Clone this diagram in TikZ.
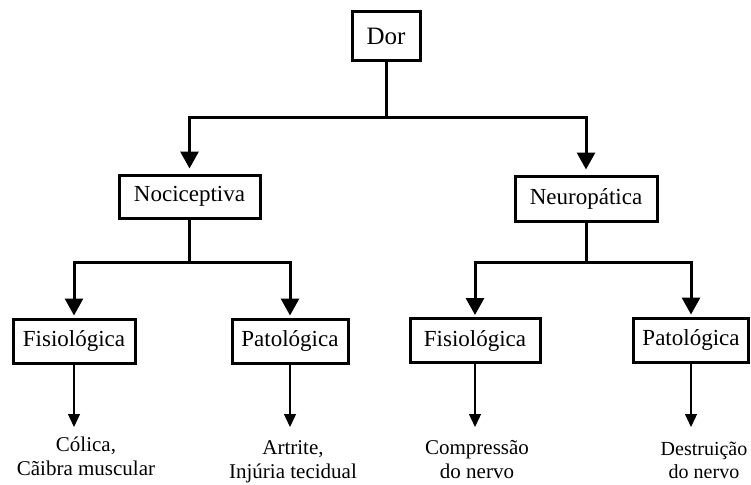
\documentclass[tikz,border=0pt]{standalone}
\usepackage{fontspec}
\setmainfont{Liberation Serif}
\usetikzlibrary{arrows.meta}
\begin{document}
\begin{tikzpicture}[x=1pt,y=1pt,
  box/.style={draw=black,line width=3pt,fill=white,inner sep=0pt,minimum height=44pt,font=\fontsize{23}{26}\selectfont},
  leaf/.style={inner sep=0pt,align=center,anchor=north,font=\fontsize{21}{24}\selectfont},
  bigline/.style={line width=3pt},
  bigarrow/.style={line width=3pt,-{Triangle[width=18pt,length=17pt]}},
  smallarrow/.style={line width=1.3pt,-{Triangle[width=12pt,length=13pt]}}]
\useasboundingbox (0,0) rectangle (751,-484);
\fill[white] (0,0) rectangle (751,-484);

\node[box,minimum width=68pt,minimum height=49pt,font=\fontsize{25}{28}\selectfont] (dor) at (386,-36.5) {Dor};
\node[box,minimum width=141pt,minimum height=43pt] (noc) at (189.5,-196.5) {Nociceptiva};
\node[box,minimum width=142pt,minimum height=45pt] (neu) at (586,-198.5) {Neuropática};
\node[box,minimum width=122pt] (f1) at (74,-341) {Fisiológica};
\node[box,minimum width=116pt] (p1) at (290,-341) {Patológica};
\node[box,minimum width=130pt] (f2) at (475,-340.5) {Fisiológica};
\node[box,minimum width=115pt] (p2) at (691,-340) {Patológica};

\node[leaf] (t1) at (86,-437) {Cólica,\\Cãibra muscular};
\node[leaf] (t2) at (293,-440) {Artrite,\\Injúria tecidual};
\node[leaf] (t3) at (477,-440) {Compressão\\do nervo};
\node[leaf,font=\fontsize{20}{23}\selectfont] (t4) at (704,-442) {Destruição\\do nervo};

\coordinate (j0) at (386,-117);
\coordinate (j1) at (189.5,-262);
\coordinate (j2) at (586,-262);

\draw[bigline] (dor.south) -- (j0);
\draw[bigarrow,shorten >=5pt] (j0) -| (noc.north);
\draw[bigarrow,shorten >=5pt] (j0) -| (neu.north);

\draw[bigline] (noc.south) -- (j1);
\draw[bigarrow,shorten >=2pt] (j1) -| (f1.north);
\draw[bigarrow,shorten >=2pt] (j1) -| (p1.north);

\draw[bigline] (neu.south) -- (j2);
\draw[bigarrow,shorten >=2pt] (j2) -| (f2.north);
\draw[bigarrow,shorten >=2pt] (j2) -| (p2.north);

\draw[smallarrow,shorten >=10pt] (f1.south) -- (f1.south |- t1.north);
\draw[smallarrow,shorten >=13pt] (p1.south) -- (p1.south |- t2.north);
\draw[smallarrow,shorten >=13pt] (f2.south) -- (f2.south |- t3.north);
\draw[smallarrow,shorten >=15pt] (p2.south) -- (p2.south |- t4.north);
\end{tikzpicture}
\end{document}
